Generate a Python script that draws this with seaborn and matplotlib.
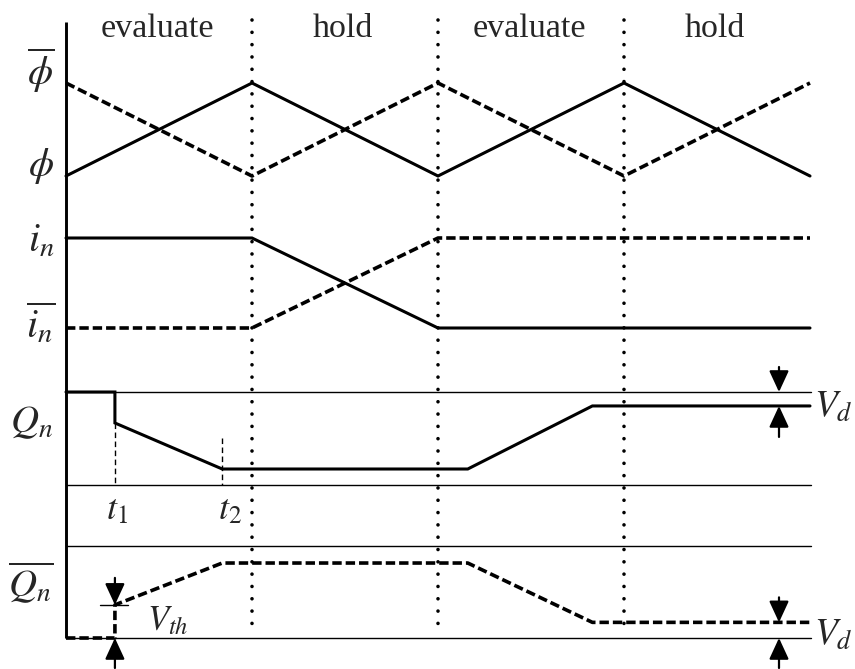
import numpy as np
import pandas as pd
import seaborn as sns
import matplotlib.pyplot as plt

# ---- signal data (time in half-periods, levels normalised per lane) ----
phase_times = [0, 1, 2, 3, 4]
phi = [0, 1, 0, 1, 0]
phi_bar = [1, 0, 1, 0, 1]

i_times = [0, 1, 2, 4]
i_n = [1, 1, 0, 0]
i_n_bar = [0, 0, 1, 1]

t1, t2 = 0.263, 0.84
q_times = [0, t1, t1, t2, 2.16, 2.83, 4]
q_n = [1.0, 1.0, 0.667, 0.172, 0.172, 0.85, 0.85]
q_n_bar = [0.0, 0.0, 0.36, 0.815, 0.815, 0.17, 0.17]

phase_edges = [1, 2, 3]
phase_names = ["evaluate", "hold", "evaluate", "hold"]
phase_centers = [0.5, 1.5, 2.5, 3.5]

v_th = 0.36
v_d_q = 0.15
v_d_qbar = 0.17

# ---- lane layout (vertical pixel base and amplitude of each trace) ----
lanes = {
    "phi": (176, 93),
    "i": (328, 90),
    "q": (485, 93),
    "qbar": (638, 92),
}


def lane_y(name, values):
    base, amp = lanes[name]
    return [base - amp * v for v in values]


sns.set_theme(style="white")
plt.rcParams["mathtext.fontset"] = "stix"
plt.rcParams["font.family"] = ["Liberation Serif", "DejaVu Serif"]

W, H = 855, 669
fig = plt.figure(figsize=(W / 100, H / 100), dpi=100)
ax = fig.add_axes([0, 0, 1, 1])
x0, dx = 66, 186  # pixel position of t=0 and width of one phase
ax.set_xlim(-x0 / dx, (W - x0) / dx)
ax.set_ylim(H, 0)
ax.set_axis_off()

K = "black"
SOLID_LW = 2.2
DASH_LW = 2.6
DASHES = (2.6, 1.1)


def trace(x, y, dashed=False):
    sns.lineplot(x=x, y=y, ax=ax, estimator=None, sort=False, color=K,
                 linewidth=DASH_LW if dashed else SOLID_LW)
    line = ax.lines[-1]
    line.set_solid_joinstyle("miter")
    if dashed:
        line.set_dashes(DASHES)
    return line


# left axis
ax.plot([0, 0], [22, 638], color=K, lw=2.1, solid_capstyle="butt")

# dotted phase boundaries
for e in phase_edges:
    ax.plot([e, e], [20, 628], color=K, lw=2.6, dashes=(0.01, 3.4),
            dash_capstyle="round")

# thin reference levels for Q lanes
xend = 4.005
for name in ("q", "qbar"):
    for lvl in (0, 1):
        yy = lane_y(name, [lvl])[0]
        ax.plot([0, xend], [yy, yy], color=K, lw=1.0)

# clock signals
trace(phase_times, lane_y("phi", phi))
trace(phase_times, lane_y("phi", phi_bar), dashed=True)

# currents
trace(i_times, lane_y("i", i_n))
trace(i_times, lane_y("i", i_n_bar), dashed=True)

# Q outputs
trace(q_times, lane_y("q", q_n))
trace(q_times, lane_y("qbar", q_n_bar), dashed=True)

# t1 / t2 markers
q_low = lane_y("q", [0])[0]
ax.plot([t1, t1], [lane_y("q", [q_n[2]])[0], q_low], color=K, lw=1.0,
        dashes=(4, 2.5))
ax.plot([t2, t2], [lane_y("q", [q_n[3]])[0] - 31, q_low], color=K, lw=1.0,
        dashes=(4, 2.5))
ax.text(t1 + 0.01, 511, "$t_1$", fontsize=26, ha="center", va="center")
ax.text(t2 + 0.04, 511, "$t_2$", fontsize=26, ha="center", va="center")

# phase titles
for c, s in zip(phase_centers, phase_names):
    ax.text(c - 0.01, 29, s, fontsize=24.5, ha="center", va="center")

# signal names
lx = -25 / dx
ax.text(lx, 70, r"$\overline{\phi}$", fontsize=29, ha="center", va="center")
ax.text(lx, 166, r"$\phi$", fontsize=29, ha="center", va="center")
ax.text(lx, 242, r"$i_n$", fontsize=29, ha="center", va="center")
ax.text(lx, 324, r"$\overline{i_n}$", fontsize=29, ha="center", va="center")
ax.text(-35 / dx, 423, r"$Q_n$", fontsize=28, ha="center", va="center")
ax.text(-35 / dx, 582, r"$\overline{Q_n}$", fontsize=28, ha="center",
        va="center")


def arrow(x, tail, tip):
    ax.annotate("", xy=(x, tip), xytext=(x, tail),
                arrowprops=dict(arrowstyle="-|>,head_length=0.65,head_width=0.3",
                                color=K, lw=1.6, shrinkA=0, shrinkB=0,
                                mutation_scale=20))


# V_th markers
yth = lane_y("qbar", [v_th])[0]
ybot = lane_y("qbar", [0])[0]
arrow(t1, yth - 27, yth)
arrow(t1, ybot + 30, ybot)
ax.plot([t1 - 0.08, t1 + 0.07], [yth, yth], color=K, lw=1.0)
ax.text(t1 + 0.17, 622, "$V_{th}$", fontsize=25, ha="left", va="center")

# V_d markers
xd = (779 - x0) / dx
yq1 = lane_y("q", [1])[0]
yqd = lane_y("q", [1 - v_d_q])[0]
arrow(xd, yq1 - 25, yq1)
arrow(xd, yqd + 31, yqd)
ax.text(4.02, 408, "$V_d$", fontsize=27, ha="left", va="center")

yqb = lane_y("qbar", [v_d_qbar])[0]
arrow(xd, yqb - 25, yqb)
arrow(xd, ybot + 30, ybot)
ax.text(4.02, 636, "$V_d$", fontsize=27, ha="left", va="center")

fig.savefig("out.png", dpi=100, facecolor="white")
